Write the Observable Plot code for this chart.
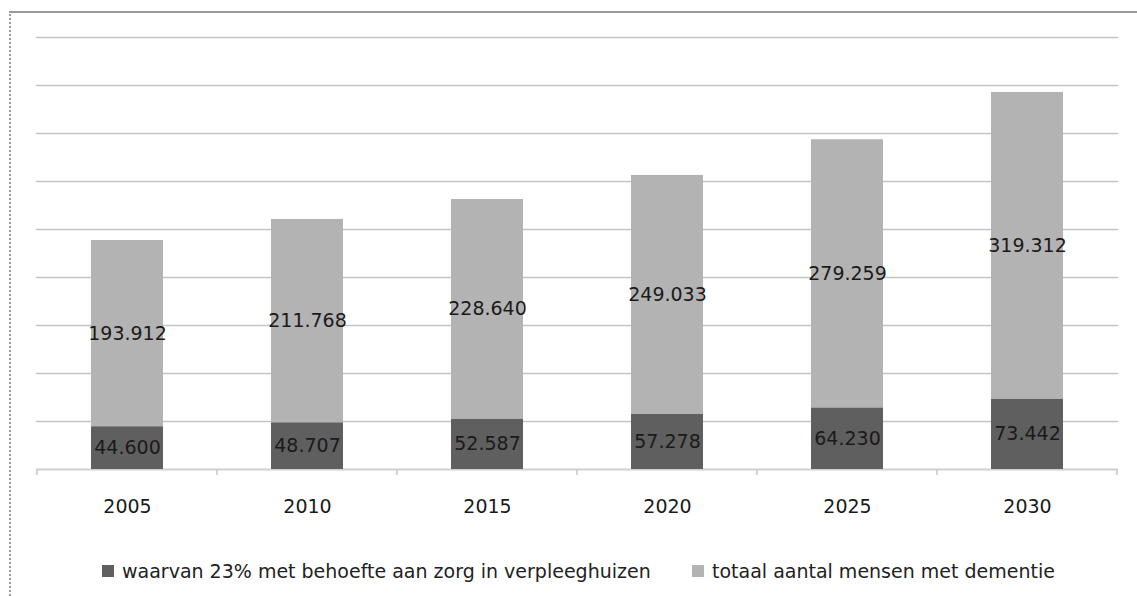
<!DOCTYPE html>
<html><head><meta charset="utf-8">
<script src="https://cdn.jsdelivr.net/npm/d3@7"></script>
<script src="https://cdn.jsdelivr.net/npm/@observablehq/plot@0.6"></script>
<style>
body{margin:0;background:#fff;font-family:"DejaVu Sans",sans-serif;}
#frame{position:absolute;left:9px;top:11px;width:1128px;height:585px;border-top:2px solid #9a9a9a;border-left:2px dotted #9a9a9a;box-sizing:border-box;}
#chart{position:absolute;left:0;top:0;}
#legend{position:absolute;top:560px;left:0;width:1137px;height:22px;font-size:19px;color:#222;}
.item{position:absolute;top:0;display:flex;align-items:center;white-space:nowrap;}
.sw{width:12px;height:12px;margin-right:8px;}
</style></head>
<body>
<div id="frame"></div>
<div id="chart"></div>
<div id="legend"></div>
<script>
const years = ["2005", "2010", "2015", "2020", "2025", "2030"];
const verpleeghuis = [44600, 48707, 52587, 57278, 64230, 73442];
const overig = [193912, 211768, 228640, 249033, 279259, 319312];
const seriesNames = ["waarvan 23% met behoefte aan zorg in verpleeghuizen", "totaal aantal mensen met dementie"];
const seriesColors = ["#5f5f5f", "#b3b3b3"];
const gridValues = [50000, 100000, 150000, 200000, 250000, 300000, 350000, 400000, 450000];

const nl = d3.formatLocale({decimal: ",", thousands: ".", grouping: [3], currency: ["€", ""]});
const fmt = nl.format(",d");

const data = [];
years.forEach((y, i) => {
  data.push({year: y, series: seriesNames[0], value: verpleeghuis[i]});
  data.push({year: y, series: seriesNames[1], value: overig[i]});
});

function boundaryTicks(index, scales, values, dims) {
  const x = scales.x;
  const bw = typeof x.bandwidth === "function" ? x.bandwidth() : x.bandwidth;
  const step = typeof x.step === "function" ? x.step() : (scales.scales && scales.scales.x.step);
  const y0 = scales.y(0);
  const g = d3.create("svg:g").attr("stroke", "#c8c8c8").attr("stroke-width", 1.5);
  const pos = years.map(d => x(d) + bw / 2 - step / 2);
  pos.push(x(years[years.length - 1]) + bw / 2 + step / 2);
  pos.forEach(p => g.append("line").attr("x1", p).attr("x2", p).attr("y1", y0).attr("y2", y0 + 6));
  return g.node();
}

const chart = Plot.plot({
  width: 1137,
  height: 530,
  marginLeft: 36,
  marginRight: 19,
  marginTop: 37,
  marginBottom: 61,
  style: {fontFamily: "DejaVu Sans, sans-serif", background: "transparent"},
  x: {domain: years, paddingInner: 0.6, paddingOuter: 0.3, label: null, tickSize: 0, tickPadding: 30},
  y: {domain: [0, 450000], axis: null},
  color: {domain: seriesNames, range: seriesColors},
  marks: [
    Plot.ruleY(gridValues, {stroke: "#c4c4c4", strokeWidth: 1.5}),
    Plot.ruleY([0], {stroke: "#d0d0d0", strokeWidth: 2}),
    boundaryTicks,
    Plot.barY(data, {x: "year", y: "value", fill: "series", order: seriesNames}),
    Plot.text(data, Plot.stackY({x: "year", y: "value", z: "series", order: seriesNames, text: d => fmt(d.value), fill: "#1a1a1a", fontSize: 19})),
    Plot.axisX({tickSize: 0, tickPadding: 30, fontSize: 19, fill: "#1a1a1a", label: null})
  ]
});
document.getElementById("chart").appendChild(chart);

const legend = document.getElementById("legend");
const lefts = [102, 692];
seriesNames.forEach((s, i) => {
  const it = document.createElement("div");
  it.className = "item";
  it.style.left = lefts[i] + "px";
  it.innerHTML = `<div class="sw" style="background:${seriesColors[i]}"></div><span>${s}</span>`;
  legend.appendChild(it);
});
</script>
</body></html>
